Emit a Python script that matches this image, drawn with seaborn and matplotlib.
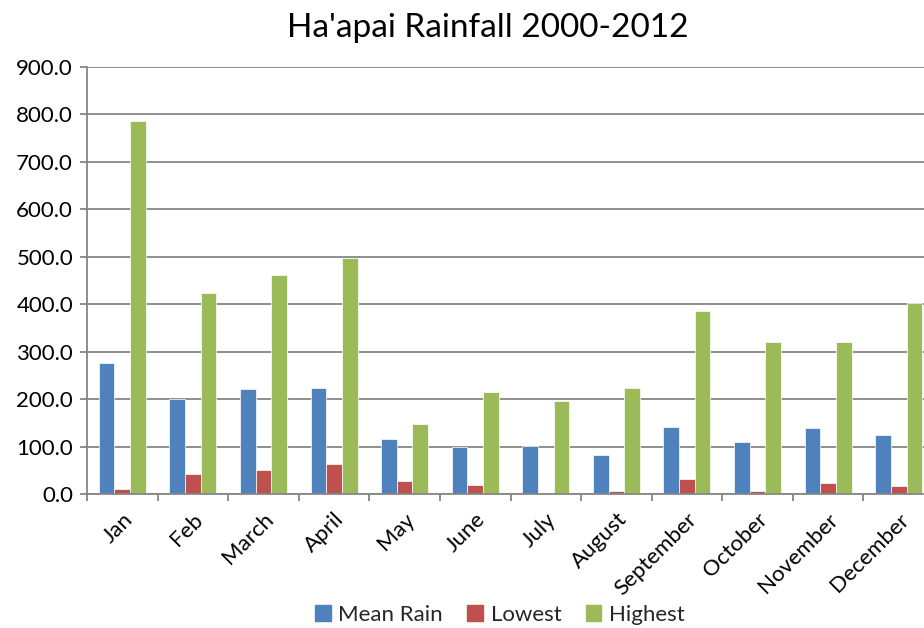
import matplotlib
matplotlib.use("Agg")
import matplotlib.pyplot as plt
from matplotlib.ticker import FixedLocator, FormatStrFormatter
import seaborn as sns
import pandas as pd
import numpy as np

months = ["Jan", "Feb", "March", "April", "May", "June", "July", "August",
          "September", "October", "November", "December"]
mean_rain = [277, 200, 221, 223, 116, 99, 101, 82, 141, 109, 139, 124]
lowest = [11, 42, 51, 64, 27, 18, 2, 6, 32, 6, 23, 16]
highest = [787, 424, 462, 497, 148, 214, 196, 223, 385, 320, 320, 403]
series = ["Mean Rain", "Lowest", "Highest"]
colors = ["#4F81BD", "#C0504D", "#9BBB59"]

df = pd.DataFrame({
    "Month": months * 3,
    "Series": [series[0]] * 12 + [series[1]] * 12 + [series[2]] * 12,
    "Value": mean_rain + lowest + highest,
})

sns.set_theme(style="white")
plt.rcParams["font.family"] = ["Lato", "DejaVu Sans"]

fig = plt.figure(figsize=(9.24, 6.28), dpi=100)
ax = fig.add_axes([87 / 924, (628 - 494) / 628, 847 / 924, 427 / 628])

sns.barplot(data=df, x="Month", y="Value", hue="Series", order=months,
            hue_order=series, palette=colors, width=2 / 3, ax=ax,
            saturation=1, edgecolor="white", linewidth=0.5, errorbar=None)

ax.set_xlim(-0.5, 11.5)
ax.set_ylim(0, 900)
ax.set_yticks(np.arange(0, 901, 100))
ax.yaxis.set_major_formatter(FormatStrFormatter("%.1f"))
ax.yaxis.grid(True, color="#868686", linewidth=1.3)
ax.set_axisbelow(True)
ax.set_xlabel("")
ax.set_ylabel("")

for s in ["top", "right"]:
    ax.spines[s].set_visible(False)
for s in ["left", "bottom"]:
    ax.spines[s].set_color("#868686")
    ax.spines[s].set_linewidth(1.3)

ax.tick_params(axis="y", which="major", direction="out", length=5, width=1.3,
               color="#868686", left=True, labelsize=16, pad=5, labelcolor="black")
ax.tick_params(axis="x", which="major", length=0, labelsize=16, pad=11, labelcolor="black")
ax.xaxis.set_minor_locator(FixedLocator(np.arange(-0.5, 12, 1)))
ax.tick_params(axis="x", which="minor", direction="out", length=5, width=1.3,
               color="#868686", bottom=True)
plt.setp(ax.get_xticklabels(), rotation=45, ha="right", rotation_mode="anchor")

fig.text(488 / 924, 1 - 28 / 628, "Ha'apai Rainfall 2000-2012", ha="center",
         va="center", fontsize=24, color="black")

ax.legend_.remove()
handles = [plt.Rectangle((0, 0), 1, 1, color=c) for c in colors]
fig.legend(handles, series, loc="center", bbox_to_anchor=(500 / 924, 1 - 615 / 628),
           ncol=3, frameon=False, fontsize=16, handlelength=0.7, handleheight=0.7,
           handletextpad=0.35, columnspacing=1.1, borderpad=0)

fig.savefig("out.png", dpi=100)
